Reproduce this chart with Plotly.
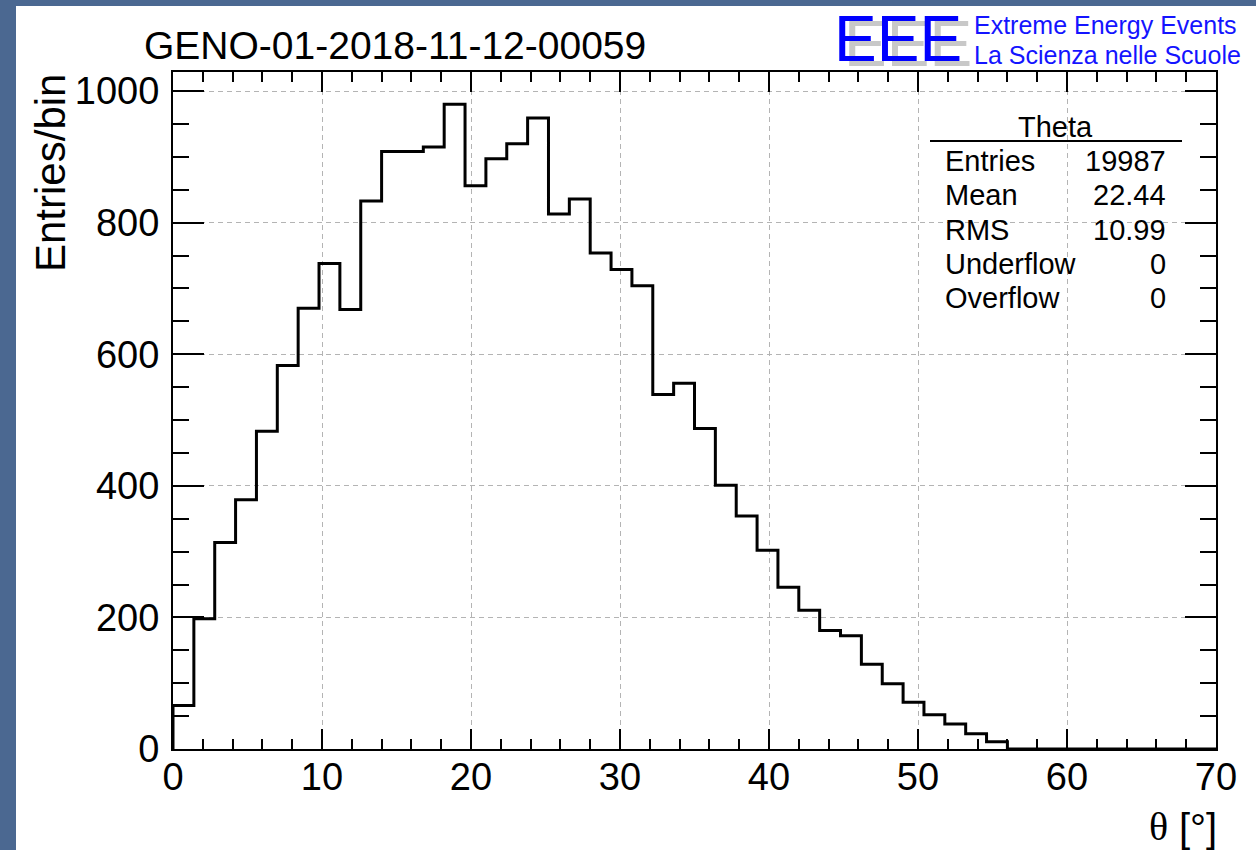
import numpy as np
import plotly.graph_objects as go

# Theta distribution: 50 bins of 1.4 deg over [0, 70]
run_name = "GENO-01-2018-11-12-00059"
hist_name = "Theta"
bin_width = 1.4
x_min, x_max = 0.0, 70.0
counts = [
    66, 198, 314, 379, 483, 583, 670, 738, 668, 833,
    908, 908, 915, 980, 856, 897, 920, 959, 813, 836,
    754, 729, 704, 539, 556, 487, 401, 354, 302, 246,
    211, 180, 172, 129, 99, 71, 52, 38, 23, 11,
    0, 0, 0, 0, 0, 0, 0, 0, 0, 0,
]
stat_labels = ["Entries", "Mean", "RMS", "Underflow", "Overflow"]
stat_values = ["19987", "22.44", "10.99", "0", "0"]
x_ticks = [0, 10, 20, 30, 40, 50, 60, 70]
y_ticks = [0, 200, 400, 600, 800, 1000]

W, H = 1256, 850
BG = "#4b6891"
FONT = "Liberation Sans, Arial, Helvetica, sans-serif"
SERIF = "Liberation Serif, Times New Roman, serif"


def px(x):
    return x / W


def py(y):
    return 1 - y / H


edges = x_min + bin_width * np.arange(len(counts) + 1)
step_x = np.concatenate([[edges[0]], edges])
step_y = np.concatenate([[0], counts, [counts[-1]]])

fig = go.Figure()
fig.add_trace(go.Scatter(
    x=step_x, y=step_y, mode="lines",
    line=dict(shape="hv", color="black", width=3),
    hoverinfo="skip", showlegend=False,
))

y_top = 1.05 * max(counts)

axis_common = dict(
    showline=True, linecolor="black", linewidth=2,
    mirror="ticks", ticks="inside", tickcolor="black", tickwidth=2,
    showgrid=True, gridcolor="#b4b4b4", gridwidth=1, griddash="5px,4px",
    zeroline=False, automargin=False,
    tickfont=dict(family=FONT, size=38, color="black"),
)

fig.update_layout(
    width=W, height=H,
    margin=dict(l=0, r=0, t=0, b=0, pad=0, autoexpand=False),
    paper_bgcolor=BG, plot_bgcolor="white",
    showlegend=False,
    xaxis=dict(
        axis_common, range=[x_min, x_max], domain=[px(173), px(1216)],
        tickvals=x_ticks, ticktext=[str(v) for v in x_ticks],
        ticklen=20, ticklabelstandoff=-7,
        minor=dict(dtick=2, ticks="inside", ticklen=10, tickcolor="black",
                   tickwidth=2, showgrid=False),
    ),
    yaxis=dict(
        axis_common, range=[0, y_top], domain=[py(749), py(72)],
        tickvals=y_ticks, ticktext=[str(v) for v in y_ticks],
        ticklen=31, ticklabelstandoff=4,
        minor=dict(dtick=50, ticks="inside", ticklen=16, tickcolor="black",
                   tickwidth=2, showgrid=False),
    ),
)

# white canvas on the blue backdrop
fig.add_shape(type="rect", xref="paper", yref="paper",
              x0=px(16), x1=1.0, y0=0.0, y1=py(6),
              fillcolor="white", line=dict(width=0), layer="below")

ann = []
# run title
ann.append(dict(text=run_name, x=px(142), y=py(45), xanchor="left", yanchor="middle",
                font=dict(family=FONT, size=39, color="black")))
# axis titles
ann.append(dict(text="Entries/bin", x=px(50), y=py(72), xanchor="center", yanchor="top",
                textangle=-90, font=dict(family=FONT, size=42, color="black")))
ann.append(dict(text="θ", x=px(1170), y=py(826), xanchor="right", yanchor="middle",
                font=dict(family=SERIF, size=40, color="black")))
ann.append(dict(text="[°]", x=px(1219), y=py(828), xanchor="right", yanchor="middle",
                font=dict(family=FONT, size=40, color="black")))
# EEE logo with its grey drop shadow
ann.append(dict(text="EEE", x=px(832), y=py(39), xanchor="left", yanchor="middle",
                font=dict(family=FONT, size=64, color="#0000ff",
                          shadow="10px 5px 0px #c8c8c8")))
ann.append(dict(text="Extreme Energy Events", x=px(972), y=py(25), xanchor="left",
                yanchor="middle", font=dict(family=FONT, size=25, color="#1414ff")))
ann.append(dict(text="La Scienza nelle Scuole", x=px(972), y=py(55), xanchor="left",
                yanchor="middle", font=dict(family=FONT, size=25, color="#1414ff")))
# statistics box
ann.append(dict(text=hist_name, x=px(1055), y=py(127), xanchor="center", yanchor="middle",
                font=dict(family=FONT, size=29, color="black")))
row_y = [161, 195, 230, 264, 298]
for lab, val, ry in zip(stat_labels, stat_values, row_y):
    ann.append(dict(text=lab, x=px(943), y=py(ry), xanchor="left", yanchor="middle",
                    font=dict(family=FONT, size=29, color="black")))
    ann.append(dict(text=val, x=px(1168), y=py(ry), xanchor="right", yanchor="middle",
                    font=dict(family=FONT, size=29, color="black")))
for a in ann:
    a.update(xref="paper", yref="paper", showarrow=False)
fig.update_layout(annotations=ann)

fig.add_shape(type="line", xref="paper", yref="paper",
              x0=px(930), x1=px(1182), y0=py(141), y1=py(141),
              line=dict(color="black", width=2))

fig.write_html("out.html")
